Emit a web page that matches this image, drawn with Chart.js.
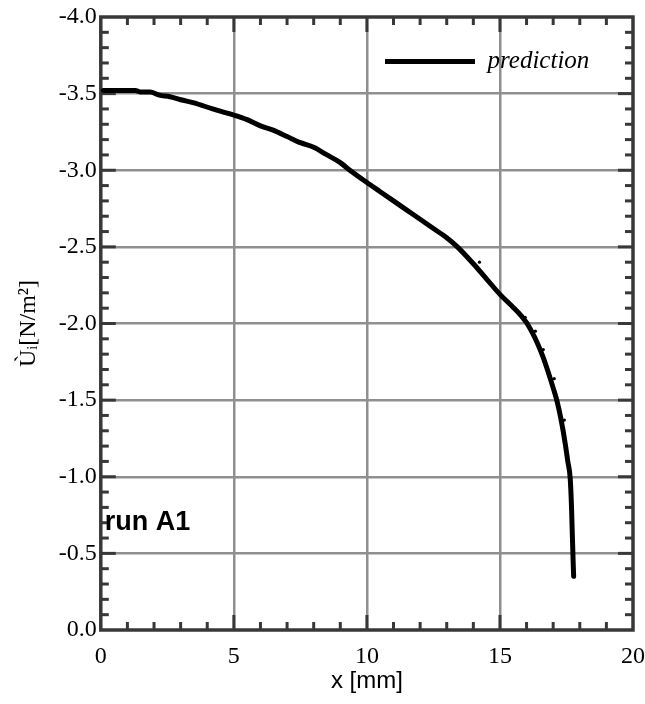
<!DOCTYPE html>
<html><head><meta charset="utf-8">
<script src="https://cdn.jsdelivr.net/npm/chart.js@4.4.1/dist/chart.umd.min.js"></script>
<style>html,body{margin:0;padding:0;background:#fff;}canvas{display:block;}</style>
</head><body>
<canvas id="c" width="645" height="704"></canvas>
<script>
// ---- data ----
const predictionX = [0.1,0.6,1.3,1.5,1.85,2.2,2.6,3.0,3.5,4.2,5.0,5.5,6.0,6.5,7.0,7.5,8.0,8.5,9.0,9.36,10.0,10.5,11.0,11.5,12.0,12.5,13.0,13.4,14.0,14.5,15.0,15.5,15.8,16.0,16.2,16.4,16.6,16.8,17.0,17.15,17.3,17.45,17.55,17.64,17.69,17.72,17.75,17.77];
const predictionY = [-3.52,-3.52,-3.52,-3.51,-3.51,-3.49,-3.48,-3.46,-3.44,-3.40,-3.36,-3.33,-3.29,-3.26,-3.22,-3.18,-3.15,-3.10,-3.05,-3.00,-2.92,-2.86,-2.80,-2.74,-2.68,-2.62,-2.56,-2.50,-2.39,-2.29,-2.19,-2.105,-2.05,-2.005,-1.945,-1.875,-1.79,-1.69,-1.58,-1.49,-1.37,-1.22,-1.10,-0.99,-0.80,-0.62,-0.45,-0.35];
const dotsX = [14.23,15.95,16.33,16.63,17.04,17.42];
const dotsY = [-2.40,-2.04,-1.95,-1.83,-1.64,-1.37];
const xTickLabels = ['0','5','10','15','20'];
const yTickLabels = ['-4.0','-3.5','-3.0','-2.5','-2.0','-1.5','-1.0','-0.5','0.0'];
const seriesName = 'prediction';
const xAxisTitle = 'x [mm]';
const yAxisTitle = 'Ùᵢ[N/m²]';
const noteText = 'run A1';
const noteX = 0.15, noteY = -0.70;

// ---- styles ----
const FRAME = '#383838';
const GRID = '#8f8f8f';
Chart.defaults.color = '#000';

const toPts = (xs, ys) => xs.map((x, i) => ({x, y: ys[i]}));
const labelFor = (labels, v) => labels.find(l => Math.abs(parseFloat(l) - v) < 1e-6) || '';

const framePlugin = {
  id: 'frame',
  beforeDatasetsDraw(chart) {
    const {ctx, chartArea: ca, scales: {x: xs, y: ys}} = chart;
    ctx.save();
    ctx.strokeStyle = FRAME;
    ctx.lineWidth = 3;
    ctx.lineCap = 'butt';
    const seg = (x1, y1, x2, y2) => { ctx.beginPath(); ctx.moveTo(x1, y1); ctx.lineTo(x2, y2); ctx.stroke(); };
    for (let i = 1; i < 20; i++) {
      const px = xs.getPixelForValue(i);
      const len = i % 5 === 0 ? 15 : 8;
      seg(px, ca.bottom, px, ca.bottom - len);
      seg(px, ca.top, px, ca.top + len);
    }
    for (let i = 1; i < 40; i++) {
      const py = ys.getPixelForValue(-4 + i * 0.1);
      const len = i % 5 === 0 ? 15 : 8;
      seg(ca.left, py, ca.left + len, py);
      seg(ca.right, py, ca.right - len, py);
    }
    ctx.lineWidth = 3.5;
    ctx.strokeRect(ca.left, ca.top, ca.right - ca.left, ca.bottom - ca.top);
    // annotation
    ctx.fillStyle = '#000';
    ctx.font = 'bold 27px "Liberation Sans", Arial, sans-serif';
    ctx.textAlign = 'left';
    ctx.textBaseline = 'middle';
    ctx.fillText(noteText, xs.getPixelForValue(noteX), ys.getPixelForValue(noteY));
    ctx.restore();
  },
  afterLayout(chart) {
    const lg = chart.legend; if (!lg) return;
    const ca = chart.chartArea;
    const pad = lg.options.labels.padding;
    const w = lg.width, h = lg.height;
    lg.left = ca.right - 248 - pad; lg.right = lg.left + w;
    lg.top = ca.top + 32 - pad; lg.bottom = lg.top + h;
  }
};

new Chart(document.getElementById('c'), {
  type: 'scatter',
  data: {
    datasets: [
      {
        label: seriesName,
        data: toPts(predictionX, predictionY),
        showLine: true,
        borderColor: '#000',
        backgroundColor: '#000',
        borderWidth: 5,
        borderCapStyle: 'round',
        borderJoinStyle: 'round',
        cubicInterpolationMode: 'monotone',
        tension: 0.4,
        pointRadius: 0,
        pointHoverRadius: 0
      },
      {
        label: 'dots',
        data: toPts(dotsX, dotsY),
        showLine: false,
        pointRadius: 1.6,
        pointBorderWidth: 0,
        backgroundColor: '#000',
        borderColor: '#000'
      }
    ]
  },
  options: {
    responsive: false,
    animation: false,
    layout: { padding: { left: 0, top: 17, right: 12, bottom: 0 } },
    plugins: {
      tooltip: { enabled: false },
      legend: {
        position: 'chartArea',
        align: 'start',
        labels: {
          filter: (item) => item.datasetIndex === 0,
          usePointStyle: true,
          pointStyle: 'line',
          pointStyleWidth: 90,
          padding: 10,
          color: '#000',
          font: { family: '"Liberation Serif", "Times New Roman", serif', size: 25, style: 'italic' }
        }
      }
    },
    scales: {
      x: {
        type: 'linear', min: 0, max: 20,
        border: { display: false },
        grid: {
          drawTicks: false,
          lineWidth: 2.5,
          color: (c) => (c.tick && (c.tick.value === 0 || c.tick.value === 20)) ? 'rgba(0,0,0,0)' : GRID
        },
        ticks: {
          stepSize: 5,
          padding: 0,
          color: '#000',
          font: { family: '"Liberation Serif", "Times New Roman", serif', size: 24, lineHeight: 2.25 },
          callback: (v) => labelFor(xTickLabels, v)
        },
        title: {
          display: true,
          text: xAxisTitle,
          color: '#000',
          font: { family: '"Liberation Sans", Arial, sans-serif', size: 24, lineHeight: 1.0 },
          padding: { top: -15, bottom: 11 }
        }
      },
      y: {
        type: 'linear', min: -4, max: 0, reverse: true,
        border: { display: false },
        grid: {
          drawTicks: false,
          lineWidth: 2.5,
          color: (c) => (c.tick && (c.tick.value === 0 || c.tick.value === -4)) ? 'rgba(0,0,0,0)' : GRID
        },
        ticks: {
          stepSize: 0.5,
          padding: 4,
          color: '#000',
          font: { family: '"Liberation Serif", "Times New Roman", serif', size: 24, lineHeight: 1.0 },
          callback: (v) => labelFor(yTickLabels, v)
        },
        title: {
          display: true,
          text: yAxisTitle,
          color: '#000',
          font: { family: '"Liberation Serif", "DejaVu Serif", serif', size: 24, lineHeight: 1.2 },
          padding: { top: 14, bottom: 12 }
        }
      }
    }
  },
  plugins: [framePlugin]
});
</script>
</body></html>
